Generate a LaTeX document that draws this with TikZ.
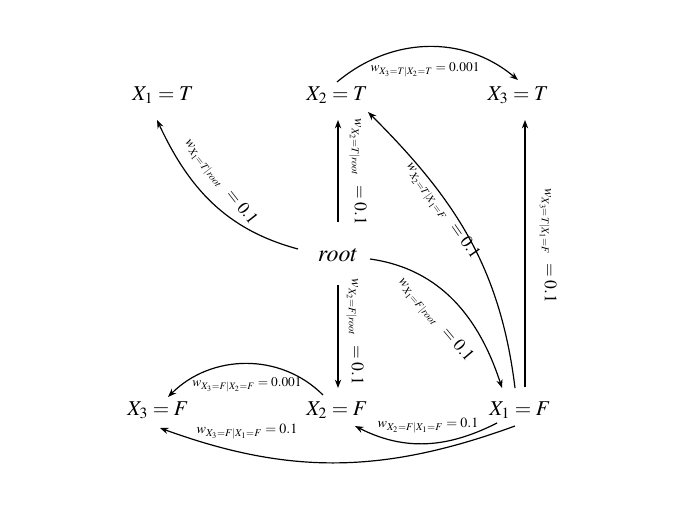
\documentclass[tikz,border=0pt]{standalone}
\usepackage{mathptmx}
\usetikzlibrary{arrows.meta}

\newcommand{\bigval}[1]{{\fontsize{12.5}{14}\selectfont$=#1$}}

\begin{document}
\begin{tikzpicture}[
    >={Stealth[length=6pt,width=4.5pt]},
    var/.style={inner sep=1pt, font=\fontsize{15}{18}\selectfont},
    wlab/.style={inner sep=1pt, font=\fontsize{10}{12}\selectfont},
    wsmall/.style={wlab, font=\fontsize{9.5}{11}\selectfont},
    link/.style={->, line width=0.85pt}
]
    \useasboundingbox (0,0) rectangle (16.9,12.675);

    % Variables
    \node[var] (x1t) at (4.075,10.3) {$X_1 = T$};
    \node[var] (x2t) at (8.425,10.3) {$X_2 = T$};
    \node[var] (x3t) at (12.95,10.3) {$X_3 = T$};
    \node[var, font=\fontsize{17}{20}\selectfont] (root) at (8.45,6.3) {$root$};
    \node[var] (x3f) at (3.95,2.425) {$X_3 = F$};
    \node[var] (x2f) at (8.425,2.425) {$X_2 = F$};
    \node[var] (x1f) at (13.0,2.425) {$X_1 = F$};

    % Edges out of root
    \draw[link] ([shift={(-1.0,0.15)}]root.center) to[out=165, in=-65] ([shift={(-0.15,-0.625)}]x1t.center);
    \draw[link] ([shift={(0,0.825)}]root.center) -- ([shift={(0.025,-0.625)}]x2t.center);
    \draw[link] ([shift={(0,-0.75)}]root.center) -- ([shift={(0.025,0.55)}]x2f.center);
    \draw[link] ([shift={(0.8,-0.1)}]root.center) to[out=-8, in=108] ([shift={(-0.45,0.55)}]x1f.center);

    % Edges out of X1 = F
    \draw[link] ([shift={(-0.125,0.55)}]x1f.center) to[out=97, in=-45] ([shift={(0.775,-0.425)}]x2t.center);
    \draw[link] ([shift={(0.125,0.575)}]x1f.center) -- ([shift={(0.175,-0.625)}]x3t.center);
    \draw[link] ([shift={(-0.575,-0.325)}]x1f.center) to[out=-153, in=-27] ([shift={(0.45,-0.4)}]x2f.center);
    \draw[link] ([shift={(-0.125,-0.4)}]x1f.center) to[out=-160, in=-20] ([shift={(0.05,-0.45)}]x3f.center);

    % Edges between X2 and X3
    \draw[link] ([shift={(0,0.325)}]x2t.center) to[out=40, in=140] ([shift={(0,0.375)}]x3t.center);
    \draw[link] ([shift={(-0.35,0.375)}]x2f.center) to[out=135, in=45] ([shift={(0.25,0.325)}]x3f.center);

    % Weights
    \node[wlab, rotate=-52] (w1t) at (5.5,8.125) {$w_{X_1=T|root}$\ \ \bigval{0.1}};
    \node[wlab, rotate=-90] (w2t) at (8.95,8.375) {$w_{X_2=T|root}$\ \ \bigval{0.1}};
    \node[wlab, rotate=-90] (w2f) at (8.875,4.375) {$w_{X_2=F|root}$\ \ \bigval{0.1}};
    \node[wlab, rotate=-50] (w1f) at (10.875,4.675) {$w_{X_1=F|root}$\ \ \bigval{0.1}};
    \node[wlab, rotate=-55] (w2t1f) at (11.05,7.4) {$w_{X_2=T|X_1=F}$\ \ \bigval{0.1}};
    \node[wlab, rotate=-90] (w3t1f) at (13.7,6.525) {$w_{X_3=T|X_1=F}$\ \ \bigval{0.1}};
    \node[wsmall] (w3t2t) at (10.625,10.925) {$w_{X_3=T|X_2=T} = 0.001$};
    \node[wsmall] (w3f2f) at (6.175,3.05) {$w_{X_3=F|X_2=F} = 0.001$};
    \node[wlab] (w3f1f) at (6.175,1.875) {$w_{X_3=F|X_1=F} = 0.1$};
    \node[wlab] (w2f1f) at (10.7,2.025) {$w_{X_2=F|X_1=F} = 0.1$};
\end{tikzpicture}
\end{document}
